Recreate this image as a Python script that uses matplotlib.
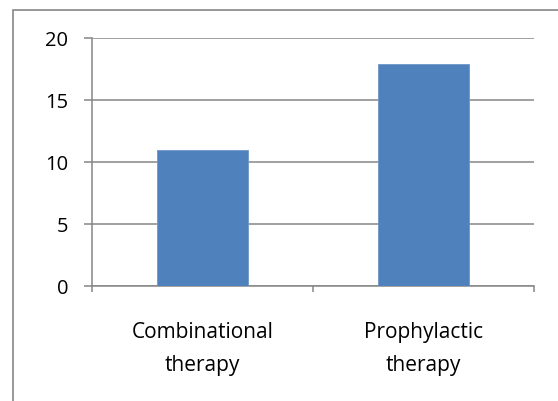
import matplotlib
matplotlib.use('Agg')
import matplotlib.pyplot as plt
from matplotlib.patches import Rectangle

# data
categories = ['Combinational\ntherapy', 'Prophylactic\ntherapy']
values = [11, 17.9]
yticks = [0, 5, 10, 15, 20]

plt.rcParams['font.family'] = ['Open Sans', 'DejaVu Sans']

grey = '#868686'
fig = plt.figure(figsize=(5.58, 4.01), dpi=100)
ax = fig.add_axes([92/558, 1 - 286/401, 442/558, 248/401])

xs = list(range(len(categories)))
ax.bar(xs, values, width=0.41, color='#4F81BD', edgecolor='#6F97C9', linewidth=0.6, zorder=3)

ax.set_xlim(-0.5, len(categories) - 0.5)
ax.set_ylim(0, 20)
ax.set_yticks(yticks)
ax.grid(axis='y', color=grey, linewidth=1.1, zorder=0)

ax.set_xticks(xs)
ax.set_xticklabels(categories, linespacing=1.75)
ax.set_xticks([-0.5, 0.5, 1.5], minor=True)
ax.tick_params(axis='x', which='major', length=0, pad=26, labelsize=15)
ax.tick_params(axis='x', which='minor', length=4, color=grey, width=1.1)
ax.tick_params(axis='y', length=6, color=grey, width=1.1, pad=11, labelsize=14.5)

for s in ['top', 'right']:
    ax.spines[s].set_visible(False)
for s in ['left', 'bottom']:
    ax.spines[s].set_color(grey)
    ax.spines[s].set_linewidth(1.1)

# outer chart border
fig.patches.append(Rectangle((13/558, -0.1), 1.2, 1 - 10/401 + 0.1, transform=fig.transFigure,
                             fill=False, edgecolor=grey, linewidth=1.2))

fig.savefig('out.png', dpi=100)
